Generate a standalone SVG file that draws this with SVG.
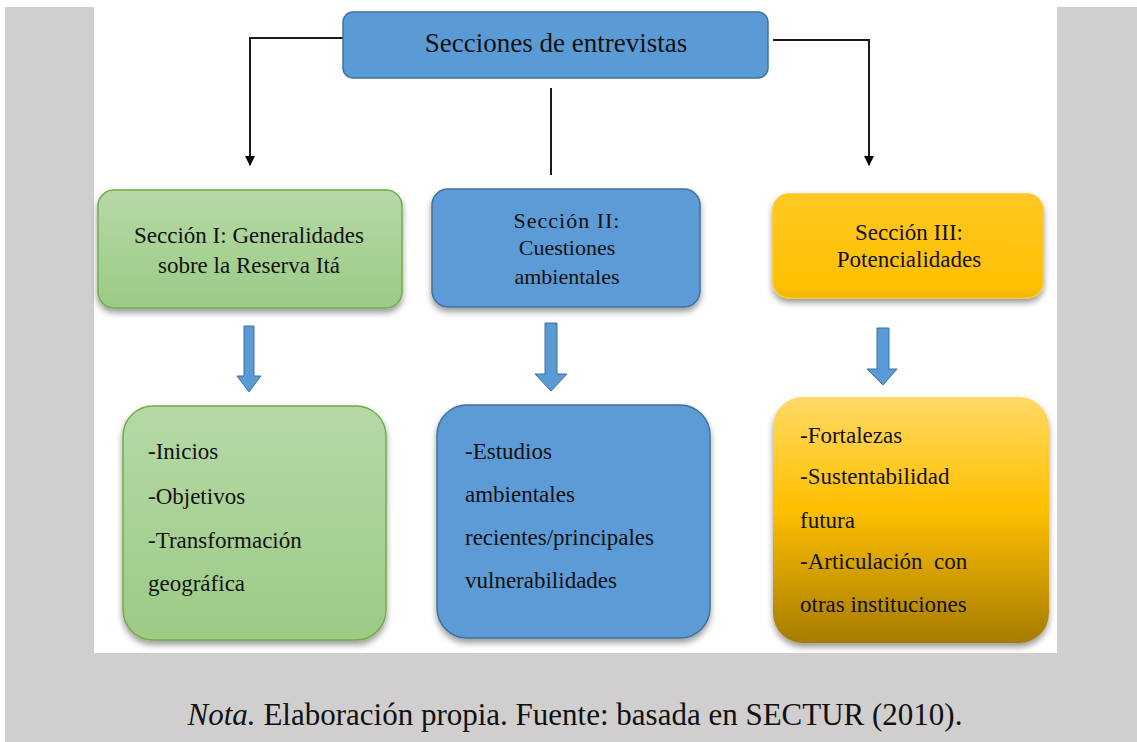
<svg xmlns="http://www.w3.org/2000/svg" width="1137" height="742" viewBox="0 0 1137 742" font-family="'Liberation Serif', 'Times New Roman', serif">
<style>
.bl{fill:#5b9bd5;stroke:#41719c;stroke-width:1.5;}
.ln{fill:none;stroke:#1a1a1a;stroke-width:2;}
.ba{fill:#5b9bd5;stroke:#41719c;stroke-width:1;}
</style>
<defs>
<marker id="ah" viewBox="0 0 10 10" refX="9" refY="5" markerWidth="5" markerHeight="5" orient="auto" markerUnits="strokeWidth">
<path d="M0,0 L10,5 L0,10 z" fill="#000"/>
</marker>
<filter id="sh" x="-10%" y="-10%" width="120%" height="130%">
<feDropShadow dx="0" dy="4" stdDeviation="3" flood-color="#000" flood-opacity="0.4"/>
</filter>
<linearGradient id="gg" x1="0" y1="0" x2="0" y2="1">
<stop offset="0" stop-color="#b6d8a6"/>
<stop offset="1" stop-color="#9ccb85"/>
</linearGradient>
<linearGradient id="yg" x1="0" y1="0" x2="0" y2="1">
<stop offset="0" stop-color="#ffc825"/>
<stop offset="0.9" stop-color="#ffc000"/>
<stop offset="1" stop-color="#f0b400"/>
</linearGradient>
<linearGradient id="yg2" x1="0" y1="0" x2="0" y2="1">
<stop offset="0" stop-color="#ffd966"/>
<stop offset="0.45" stop-color="#ffc000"/>
<stop offset="1" stop-color="#a67c00"/>
</linearGradient>
</defs>
<rect x="0" y="0" width="1137" height="742" fill="#fff"/>
<rect x="5" y="7" width="1132" height="735" fill="#d0cece"/>
<rect x="94" y="7" width="963" height="646" fill="#fff"/>

<g id="connectors">
<polyline class="ln" points="343,38 250,38 250,165" marker-end="url(#ah)"/>
<polyline class="ln" points="773,40 869,40 869,165" marker-end="url(#ah)"/>
<line class="ln" x1="551" y1="88" x2="551" y2="175"/>
<path class="ba" d="M244,326 H254 V376 H261 L249,392 L237,376 H244 Z"/>
<path class="ba" d="M545,323 H557 V374 H567 L551,391 L535,374 H545 Z"/>
<path class="ba" d="M877,328 H889 V369 H897 L883,385 L867,369 H877 Z"/>
</g>

<g id="root">
<rect class="bl" x="343" y="12" width="425" height="66" rx="10"/>
<text x="556" y="52" font-size="27" text-anchor="middle" fill="#111">Secciones de entrevistas</text>
</g>

<g id="sec1">
<rect x="98" y="190" width="304" height="118" rx="16" fill="url(#gg)" stroke="#70ad47" stroke-width="1.5" filter="url(#sh)"/>
<text x="249" y="243" font-size="23" text-anchor="middle" fill="#111">Sección I: Generalidades</text>
<text x="249" y="273" font-size="23" text-anchor="middle" fill="#111">sobre la Reserva Itá</text>
</g>

<g id="sec2">
<rect class="bl" x="432" y="189" width="268" height="118" rx="16" filter="url(#sh)"/>
<text x="567" y="228" font-size="22" text-anchor="middle" letter-spacing="1" fill="#111">Sección II:</text>
<text x="567" y="255" font-size="22" text-anchor="middle" fill="#111">Cuestiones</text>
<text x="567" y="284" font-size="22" text-anchor="middle" fill="#111">ambientales</text>
</g>

<g id="sec3">
<rect x="773" y="194" width="270" height="104" rx="16" fill="url(#yg)" stroke="#ffc62a" stroke-width="1.5" filter="url(#sh)"/>
<text x="909" y="240" font-size="23" text-anchor="middle" fill="#111">Sección III:</text>
<text x="909" y="267" font-size="23" text-anchor="middle" fill="#111">Potencialidades</text>
</g>

<g id="list1">
<rect x="123" y="406" width="263" height="234" rx="30" fill="url(#gg)" stroke="#70ad47" stroke-width="1.5" filter="url(#sh)"/>
<text font-size="23" fill="#111"><tspan x="148" y="459">-Inicios</tspan><tspan x="148" y="504">-Objetivos</tspan><tspan x="148" y="548">-Transformación</tspan><tspan x="148" y="591">geográfica</tspan></text>
</g>

<g id="list2">
<rect class="bl" x="437" y="405" width="273" height="233" rx="30" filter="url(#sh)"/>
<text font-size="23" fill="#111"><tspan x="465" y="459">-Estudios</tspan><tspan x="465" y="502">ambientales</tspan><tspan x="465" y="545">recientes/principales</tspan><tspan x="465" y="588">vulnerabilidades</tspan></text>
</g>

<g id="list3">
<rect x="773" y="397" width="276" height="246" rx="30" fill="url(#yg2)" filter="url(#sh)"/>
<text font-size="23" fill="#111" xml:space="preserve"><tspan x="800" y="443">-Fortalezas</tspan><tspan x="800" y="484">-Sustentabilidad</tspan><tspan x="800" y="528">futura</tspan><tspan x="800" y="569">-Articulación  con</tspan><tspan x="800" y="612">otras instituciones</tspan></text>
</g>

<text x="575" y="725" font-size="31" text-anchor="middle" fill="#111"><tspan font-style="italic">Nota.</tspan> Elaboración propia. Fuente: basada en SECTUR (2010).</text>
</svg>
